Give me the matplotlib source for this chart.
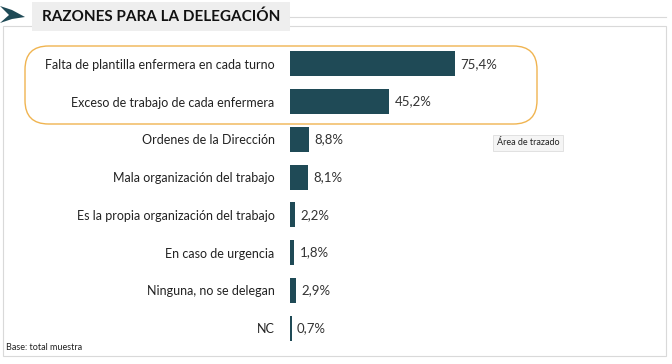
import matplotlib.pyplot as plt
from matplotlib.patches import FancyBboxPatch, Rectangle, Polygon

# Data
reasons = ['Falta de plantilla enfermera en cada turno',
           'Exceso de trabajo de cada enfermera',
           'Ordenes de la Dirección',
           'Mala organización del trabajo',
           'Es la propia organización del trabajo',
           'En caso de urgencia',
           'Ninguna, no se delegan',
           'NC']
values = [75.4, 45.2, 8.8, 8.1, 2.2, 1.8, 2.9, 0.7]

bar_color = '#1f4a56'
plt.rcParams['font.family'] = ['Lato', 'DejaVu Sans']

W, H = 672, 364
fig = plt.figure(figsize=(W / 100, H / 100), dpi=100)

def fx(px):
    return px / W

def fy(py):
    return 1 - py / H

# outer frame
fig.add_artist(Rectangle((fx(3), fy(356)), fx(666) - fx(3), fy(26) - fy(356),
                         transform=fig.transFigure, fill=False,
                         edgecolor='#d9d9d9', lw=0.8))

# title box
fig.add_artist(Rectangle((fx(32), fy(31)), fx(290) - fx(32), fy(2) - fy(31),
                         transform=fig.transFigure, facecolor='#eeeeee',
                         edgecolor='none'))
fig.add_artist(plt.Line2D([fx(290), fx(666)], [fy(17), fy(17)],
                          transform=fig.transFigure, color='#d9d9d9', lw=0.8))
fig.text(fx(161), fy(17), 'RAZONES PARA LA DELEGACIÓN', ha='center', va='center',
         fontsize=11, fontweight='bold', color='#111111')

# arrow at top left
arrow = Polygon([[fx(0), fy(6)], [fx(12), fy(10)], [fx(25), fy(17)],
                 [fx(12), fy(19)], [fx(0), fy(23)], [fx(9), fy(15)]],
                closed=True, transform=fig.transFigure, facecolor='#1f4a56',
                edgecolor='none')
fig.add_artist(arrow)

# highlight box
fig.add_artist(FancyBboxPatch((fx(25), fy(124)), fx(537) - fx(25), fy(46) - fy(124),
                              boxstyle='round,pad=0,rounding_size=0.035',
                              transform=fig.transFigure, fill=False,
                              edgecolor='#f0b450', lw=1.0,
                              mutation_aspect=W / H))

# bar axes
ax = fig.add_axes([fx(290), fy(347), fx(660) - fx(290), fy(45) - fy(347)])
y = list(range(len(reasons)))
bars = ax.barh(y, values, height=0.66, color=bar_color)
ax.set_ylim(len(reasons) - 0.5, -0.5)
ax.set_xlim(0, 169)
ax.set_yticks(y)
ax.set_yticklabels(reasons, fontsize=9, color='#222222')
ax.tick_params(axis='y', length=0, pad=11)
ax.set_xticks([])
for s in ax.spines.values():
    s.set_visible(False)
ax.patch.set_alpha(0)

for b, v in zip(bars, values):
    ax.annotate(f'{v:.1f}%'.replace('.', ','),
                xy=(b.get_width(), b.get_y() + b.get_height() / 2),
                xytext=(4, 0), textcoords='offset points',
                ha='left', va='center', fontsize=9.5, color='#333333')

# tooltip
fig.text(fx(497), fy(143), 'Área de trazado', ha='left', va='center',
         fontsize=6.5, color='#222222',
         bbox=dict(boxstyle='square,pad=0.4', facecolor='#f5f5f5',
                   edgecolor='#dddddd', lw=0.6))

fig.text(fx(6), fy(347), 'Base: total muestra', ha='left', va='center',
         fontsize=6.5, color='#222222')

fig.savefig('out.png', dpi=100)
